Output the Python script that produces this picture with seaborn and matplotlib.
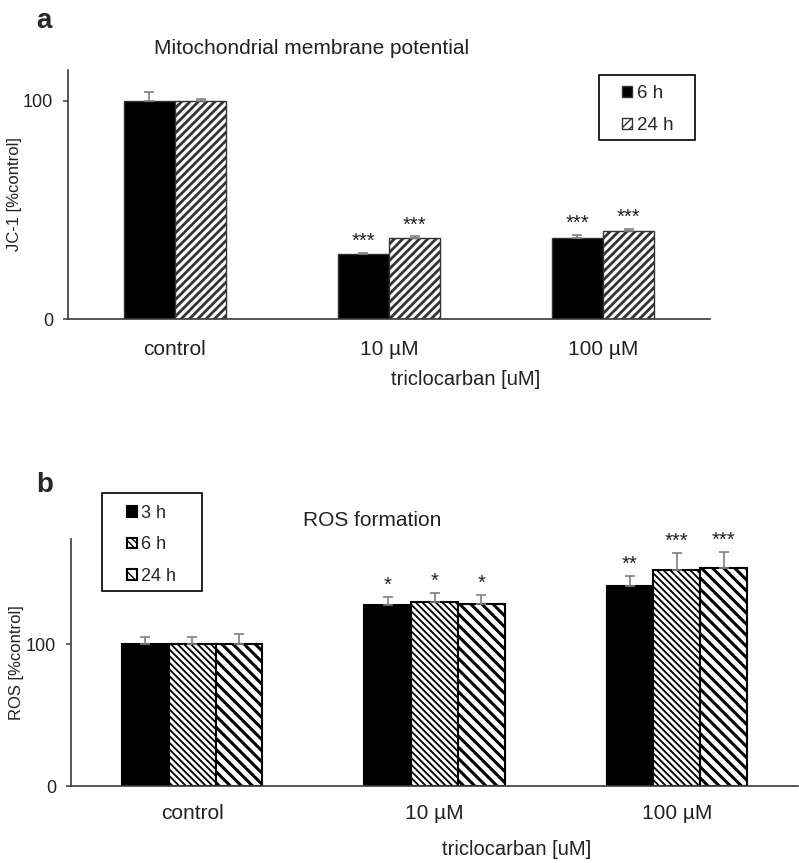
import numpy as np
import pandas as pd
import matplotlib
matplotlib.use("Agg")
import matplotlib.pyplot as plt
from matplotlib.patches import Rectangle
import seaborn as sns

# =========================
# DATA
# =========================

concs = ["control", "10 µM", "100 µM"]

# panel a - JC-1, mitochondrial membrane potential
a_times = ["6 h", "24 h"]
a_6h = [100, 29.7, 37.3]
a_6h_err = [4.0, 0.5, 1.1]
a_24h = [100, 37.3, 40.5]
a_24h_err = [0.6, 0.5, 0.9]
a_6h_sig = ["", "***", "***"]
a_24h_sig = ["", "***", "***"]

# panel b - ROS formation
b_times = ["3 h", "6 h", "24 h"]
b_3h = [100, 127.7, 140.7]
b_3h_err = [5.0, 5.2, 7.5]
b_6h = [100, 129.4, 152.4]
b_6h_err = [5.0, 6.3, 11.5]
b_24h = [100, 128.0, 153.4]
b_24h_err = [7.3, 6.3, 11.5]
b_3h_sig = ["", "*", "**"]
b_6h_sig = ["", "*", "***"]
b_24h_sig = ["", "*", "***"]

# =========================
# STYLE
# =========================

W, H = 799, 863
sns.set_style("ticks")
plt.rcParams["font.family"] = ["Liberation Sans", "DejaVu Sans"]

AXIS_COL = "#3a3a3a"
ERR_COL = "#808080"
TXT_COL = "#222222"


def fx(px):
    return px / W


def fy(py):
    return 1 - py / H


def make_df(times, values):
    rows = []
    for t, vals in zip(times, values):
        for c, v in zip(concs, vals):
            rows.append({"conc": c, "time": t, "value": v})
    return pd.DataFrame(rows)


def style_axis(ax, ylim, xpad):
    sns.despine(ax=ax)
    ax.set_xlim(-0.5, 2.5)
    ax.set_ylim(*ylim)
    ax.set_yticks([0, 100])
    for s in ["left", "bottom"]:
        ax.spines[s].set_color(AXIS_COL)
        ax.spines[s].set_linewidth(1.2)
    ax.tick_params(axis="y", length=3.6, width=1.1, color=AXIS_COL,
                   labelsize=13, pad=7, labelcolor=TXT_COL)
    ax.tick_params(axis="x", length=0, labelsize=15, pad=xpad, labelcolor=TXT_COL)


def add_errors_and_stars(ax, bars, errs, sigs):
    for cont, err, sig in zip(bars, errs, sigs):
        xs = [p.get_x() + p.get_width() / 2 for p in cont.patches]
        ys = [p.get_height() for p in cont.patches]
        ax.errorbar(xs, ys, yerr=[np.zeros(len(err)), err], fmt="none",
                    ecolor=ERR_COL, elinewidth=1.2, capsize=3.6, capthick=1.2)
        for x, y, e, s in zip(xs, ys, err, sig):
            if s:
                ax.annotate(s, (x, y + e), xytext=(0, 1.5), textcoords="offset points",
                            ha="center", va="bottom", fontsize=14.5, color=TXT_COL)


def hatch_bars(cont, pattern, lw):
    for p in cont.patches:
        p.set_hatch(pattern)
        if hasattr(p, "set_hatch_linewidth"):
            p.set_hatch_linewidth(lw)


fig = plt.figure(figsize=(W / 100, H / 100), dpi=100)

# =========================
# PANEL A
# =========================

ax1 = fig.add_axes([fx(68), fy(319), (710 - 68) / W, (319 - 70) / H])
df_a = make_df(a_times, [a_6h, a_24h])
sns.barplot(data=df_a, x="conc", y="value", hue="time", order=concs, hue_order=a_times,
            palette=["black", "white"], saturation=1, width=0.48, gap=0,
            errorbar=None, legend=False, edgecolor="#333333", linewidth=1.0, ax=ax1)
bars1 = list(ax1.containers)
hatch_bars(bars1[1], "////", 2.0)
add_errors_and_stars(ax1, bars1, [a_6h_err, a_24h_err], [a_6h_sig, a_24h_sig])
style_axis(ax1, (0, 114), 15)
ax1.set_ylabel("JC-1 [%control]", fontsize=12, color=TXT_COL)
ax1.yaxis.set_label_coords((22 - 68) / 642, 0.5)
ax1.set_xlabel("triclocarban [uM]", fontsize=14.5, color=TXT_COL)
ax1.xaxis.set_label_coords((466 - 68) / 642, (319 - 370) / 249)

ax1.legend(handles=[c.patches[0] for c in bars1], labels=a_times,
           loc="upper left", bbox_to_anchor=(fx(622), fy(85)),
           bbox_transform=fig.transFigure, frameon=False, fontsize=13.5,
           borderpad=0, borderaxespad=0, handlelength=0.55, handleheight=0.55,
           handletextpad=0.25, labelspacing=0.82)
fig.add_artist(Rectangle((fx(599), fy(140)), (695 - 599) / W, (140 - 75) / H,
                         transform=fig.transFigure, fill=False,
                         edgecolor="black", linewidth=1.2))

fig.text(fx(312), fy(48), "Mitochondrial membrane potential", ha="center", va="center",
         fontsize=15, color=TXT_COL)
fig.text(fx(36), fy(28), "a", fontsize=20, fontweight="bold", ha="left", va="baseline")

# =========================
# PANEL B
# =========================

ax2 = fig.add_axes([fx(71), fy(786), (798 - 71) / W, (786 - 539) / H])
df_b = make_df(b_times, [b_3h, b_6h, b_24h])
sns.barplot(data=df_b, x="conc", y="value", hue="time", order=concs, hue_order=b_times,
            palette=["black", "white", "white"], saturation=1, width=0.58, gap=0,
            errorbar=None, legend=False, edgecolor="black", linewidth=1.5, ax=ax2)
bars2 = list(ax2.containers)
hatch_bars(bars2[1], "\\\\\\\\\\", 1.3)
hatch_bars(bars2[2], "\\\\\\", 2.2)
add_errors_and_stars(ax2, bars2, [b_3h_err, b_6h_err, b_24h_err],
                     [b_3h_sig, b_6h_sig, b_24h_sig])
style_axis(ax2, (0, 174), 13)
ax2.set_ylabel("ROS [%control]", fontsize=12, color=TXT_COL)
ax2.yaxis.set_label_coords((24 - 71) / 727, 0.5)
ax2.set_xlabel("triclocarban [uM]", fontsize=14.5, color=TXT_COL)
ax2.xaxis.set_label_coords((517 - 71) / 727, (786 - 840) / 247)

ax2.legend(handles=[c.patches[0] for c in bars2], labels=b_times,
           loc="upper left", bbox_to_anchor=(fx(127), fy(505)),
           bbox_transform=fig.transFigure, frameon=False, fontsize=13,
           borderpad=0, borderaxespad=0, handlelength=0.55, handleheight=0.55,
           handletextpad=0.25, labelspacing=0.8)
fig.add_artist(Rectangle((fx(102), fy(591)), (202 - 102) / W, (591 - 493) / H,
                         transform=fig.transFigure, fill=False,
                         edgecolor="black", linewidth=1.2))

fig.text(fx(372), fy(520), "ROS formation", ha="center", va="center",
         fontsize=15, color=TXT_COL)
fig.text(fx(36), fy(492), "b", fontsize=20, fontweight="bold", ha="left", va="baseline")

fig.savefig("out.png", dpi=100)
